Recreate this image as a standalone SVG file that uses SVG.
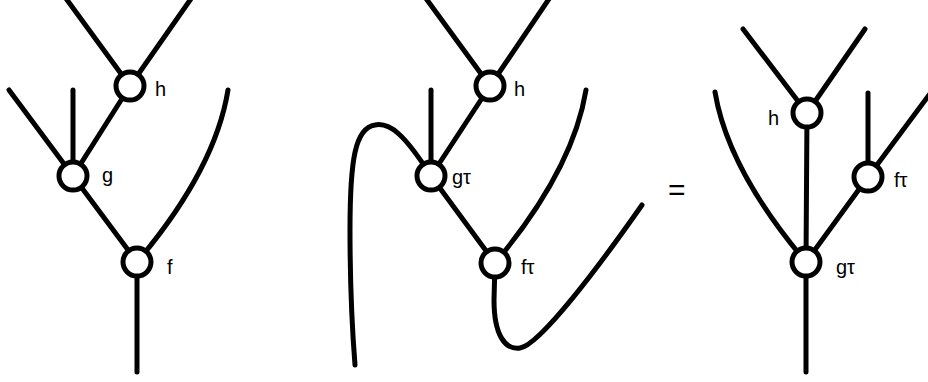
<svg xmlns="http://www.w3.org/2000/svg" width="928" height="382" viewBox="0 0 928 382">
<style>
.w{fill:none;stroke:#000;stroke-width:5;stroke-linecap:round}
.n circle{fill:#fff;stroke:#000;stroke-width:5}
text{font-family:"Liberation Sans",Arial,sans-serif;font-size:20px;fill:#000}
.eq{font-size:30px}
</style>
<rect width="928" height="382" fill="#fff"/>
<g id="connectors">
<path class="w" d="M62 -7 L130 86 M195 -7 L130 86 M130 86 L73 176 M9 90 L73 176 M73 90 L73 176 M73 176 L137 262 M137 262 Q215 170 228 90 M137 262 L137 372"/>
<path class="w" d="M422 -7 L490 86 M553 -7 L490 86 M490 86 L431 176 M431 90 L431 176 M431 176 L495 263 M495 263 Q573 170 586 90"/>
<path class="w" d="M431 176 C405 135 390 122 375 125 C355 128 350 160 350 230 C350 300 353 340 355 365"/>
<path class="w" d="M495 263 L494 300 C494 335 505 350 520 348 C540 345 600 265 642 205"/>
<path class="w" d="M743 29 L807 113 M865 29 L807 113 M807 113 L806 262 M868 93 L868 177 M935 87 L868 177 M868 177 L806 262 M806 262 Q728 170 715 92 M806 262 L806 372"/>
</g>
<g id="h1" class="n"><circle cx="130" cy="86" r="14"/><text x="155" y="96">h</text></g>
<g id="g1" class="n"><circle cx="73" cy="176" r="14"/><text x="102" y="182">g</text></g>
<g id="f1" class="n"><circle cx="137" cy="262" r="14"/><text x="167" y="274">f</text></g>
<g id="h2" class="n"><circle cx="490" cy="86" r="14"/><text x="514" y="96">h</text></g>
<g id="g2" class="n"><circle cx="431" cy="176" r="14"/><text x="452" y="184">gτ</text></g>
<g id="f2" class="n"><circle cx="495" cy="263" r="14"/><text x="521" y="274">fτ</text></g>
<g id="eq"><text class="eq" x="668" y="200">=</text></g>
<g id="h3" class="n"><circle cx="807" cy="113" r="14"/><text x="768" y="125">h</text></g>
<g id="f3" class="n"><circle cx="868" cy="177" r="14"/><text x="894" y="187">fτ</text></g>
<g id="g3" class="n"><circle cx="806" cy="262" r="14"/><text x="836" y="274">gτ</text></g>
</svg>
